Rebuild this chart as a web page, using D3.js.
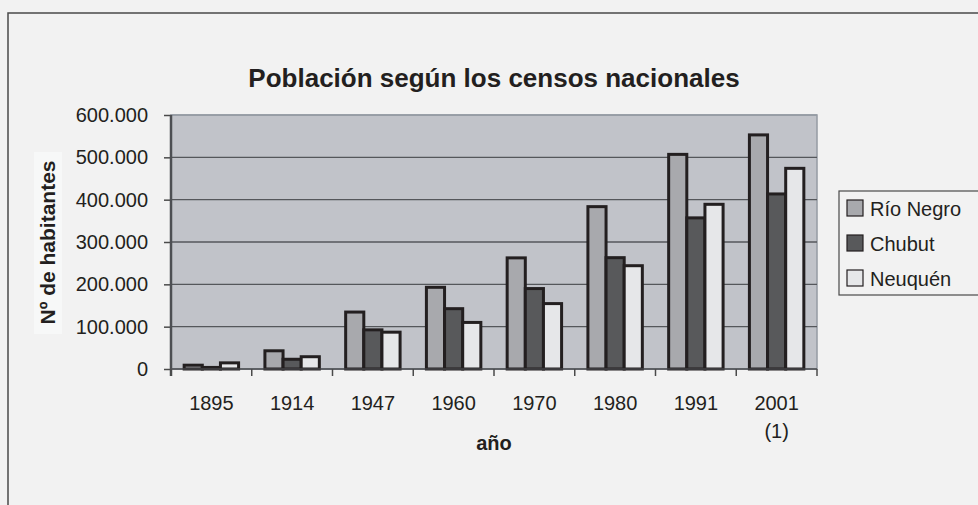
<!DOCTYPE html>
<html>
<head>
<meta charset="utf-8">
<script src="https://cdn.jsdelivr.net/npm/d3@7"></script>
<style>
  body { margin: 0; background: #f2f2f2; }
  svg { display: block; font-family: "Liberation Sans", Arial, sans-serif; }
</style>
</head>
<body>
<div id="chart"></div>
<script>
// Censos nacionales - población por provincia
const years = ['1895', '1914', '1947', '1960', '1970', '1980', '1991', '2001'];
const yearNotes = ['', '', '', '', '', '', '', '(1)'];
const series = ['Río Negro', 'Chubut', 'Neuquén'];
const rioNegro = [9000, 43000, 134500, 193000, 262500, 383500, 507000, 553000];
const chubut = [3700, 23000, 92500, 142500, 190000, 263000, 357000, 413500];
const neuquen = [14500, 29000, 87000, 110000, 154500, 244000, 389000, 474000];
const yTicks = [0, 100000, 200000, 300000, 400000, 500000, 600000];

const values = [rioNegro, chubut, neuquen];
const colors = ['#a8a9ad', '#58595b', '#e6e7e9'];

const width = 978, height = 505;
const margin = {top: 115, left: 171, right: 161, bottom: 136};
const plotW = width - margin.left - margin.right;
const plotH = height - margin.top - margin.bottom;

const svg = d3.select('#chart').append('svg')
    .attr('width', width)
    .attr('height', height);

// outer frame (runs off the right and bottom edges)
svg.append('rect')
    .attr('x', 8).attr('y', 13)
    .attr('width', 1000).attr('height', 600)
    .style('fill', '#f2f2f2')
    .style('stroke', '#4a4a4a')
    .attr('stroke-width', 1.5);

const fmt = d3.formatLocale({decimal: ',', thousands: '.', grouping: [3], currency: ['$', '']}).format(',');

const x0 = d3.scaleBand().domain(years).range([0, plotW]);
const groupW = x0.bandwidth() * 0.674;
const x1 = d3.scaleBand().domain(series)
    .range([(x0.bandwidth() - groupW) / 2, (x0.bandwidth() + groupW) / 2]);
const y = d3.scaleLinear().domain([0, 600000]).range([plotH, 0]);

const g = svg.append('g').attr('transform', `translate(${margin.left},${margin.top})`);

// plot background
g.append('rect')
    .attr('width', plotW).attr('height', plotH)
    .style('fill', '#c1c3c9')
    .style('stroke', '#959ba3')
    .attr('stroke-width', 1.5);

// gridlines
g.append('g')
    .selectAll('line')
    .data(yTicks)
    .join('line')
    .attr('x1', 0).attr('x2', plotW)
    .attr('y1', d => y(d)).attr('y2', d => y(d))
    .style('stroke', d => d === 600000 ? '#959ba3' : '#55575b')
    .attr('stroke-width', 1.3);

// bars
const groups = g.append('g')
    .selectAll('g')
    .data(years)
    .join('g')
    .attr('transform', d => `translate(${x0(d)},0)`);

groups.selectAll('rect')
    .data((d, i) => series.map((s, j) => ({s, j, v: values[j][i]})))
    .join('rect')
    .attr('x', d => x1(d.s))
    .attr('y', d => y(d.v))
    .attr('width', x1.bandwidth())
    .attr('height', d => plotH - y(d.v))
    .style('fill', d => colors[d.j])
    .style('stroke', '#231f20')
    .attr('stroke-width', 3);

// y axis
const yAxis = g.append('g')
    .call(d3.axisLeft(y).tickValues(yTicks).tickFormat(fmt).tickSize(7).tickPadding(16));
yAxis.select('.domain').remove();
yAxis.selectAll('.tick line').style('stroke', '#4a4a4a').attr('stroke-width', 1.5);
yAxis.selectAll('.tick text')
    .style('font-size', '20px')
    .style('fill', '#231f20');
g.append('line')
    .attr('x1', 0).attr('x2', 0)
    .attr('y1', 0).attr('y2', plotH + 7)
    .style('stroke', '#4d4f53')
    .attr('stroke-width', 2.5);

// x axis
const xTickPos = years.map(d => x0(d)).concat([plotW]);
g.append('line')
    .attr('x1', 0).attr('x2', plotW)
    .attr('y1', plotH).attr('y2', plotH)
    .style('stroke', '#55575b')
    .attr('stroke-width', 1);
g.append('g')
    .selectAll('line')
    .data(xTickPos)
    .join('line')
    .attr('x1', d => d).attr('x2', d => d)
    .attr('y1', plotH).attr('y2', plotH + 7)
    .style('stroke', '#4a4a4a')
    .attr('stroke-width', 1.5);

const xLabels = g.append('g')
    .selectAll('text')
    .data(years)
    .join('text')
    .attr('x', d => x0(d) + x0.bandwidth() / 2)
    .attr('y', plotH + 40.5)
    .attr('text-anchor', 'middle')
    .style('font-size', '20px')
    .style('fill', '#231f20');
xLabels.append('tspan').text(d => d);
xLabels.append('tspan')
    .attr('x', d => x0(d) + x0.bandwidth() / 2)
    .attr('dy', 28)
    .text((d, i) => yearNotes[i]);

// titles
svg.append('text')
    .attr('x', margin.left + plotW / 2)
    .attr('y', 86.5)
    .attr('text-anchor', 'middle')
    .style('font-size', '26px')
    .style('font-weight', 'bold')
    .style('fill', '#231f20')
    .text('Población según los censos nacionales');

svg.append('text')
    .attr('x', margin.left + plotW / 2)
    .attr('y', 450)
    .attr('text-anchor', 'middle')
    .style('font-size', '20px')
    .style('font-weight', 'bold')
    .style('fill', '#231f20')
    .text('año');

svg.append('rect')
    .attr('x', 34).attr('y', 152)
    .attr('width', 28).attr('height', 182)
    .style('fill', '#f7f8f8');
svg.append('text')
    .attr('transform', 'translate(55,242.5) rotate(-90)')
    .attr('text-anchor', 'middle')
    .style('font-size', '21px')
    .style('font-weight', 'bold')
    .style('fill', '#231f20')
    .text('Nº de habitantes');

// legend
const legend = svg.append('g').attr('transform', 'translate(839,191)');
legend.append('rect')
    .attr('width', 160).attr('height', 104)
    .style('fill', '#f2f2f2')
    .style('stroke', '#4a4a4a')
    .attr('stroke-width', 1.2);
const items = legend.selectAll('g.item')
    .data(series)
    .join('g')
    .attr('class', 'item')
    .attr('transform', (d, i) => `translate(0,${i * 35})`);
items.append('rect')
    .attr('x', 8).attr('y', 9)
    .attr('width', 16).attr('height', 16)
    .style('fill', (d, i) => colors[i])
    .style('stroke', '#231f20')
    .attr('stroke-width', 1.2);
items.append('text')
    .attr('x', 31).attr('y', 24.5)
    .style('font-size', '20px')
    .style('fill', '#231f20')
    .text(d => d);
</script>
</body>
</html>
